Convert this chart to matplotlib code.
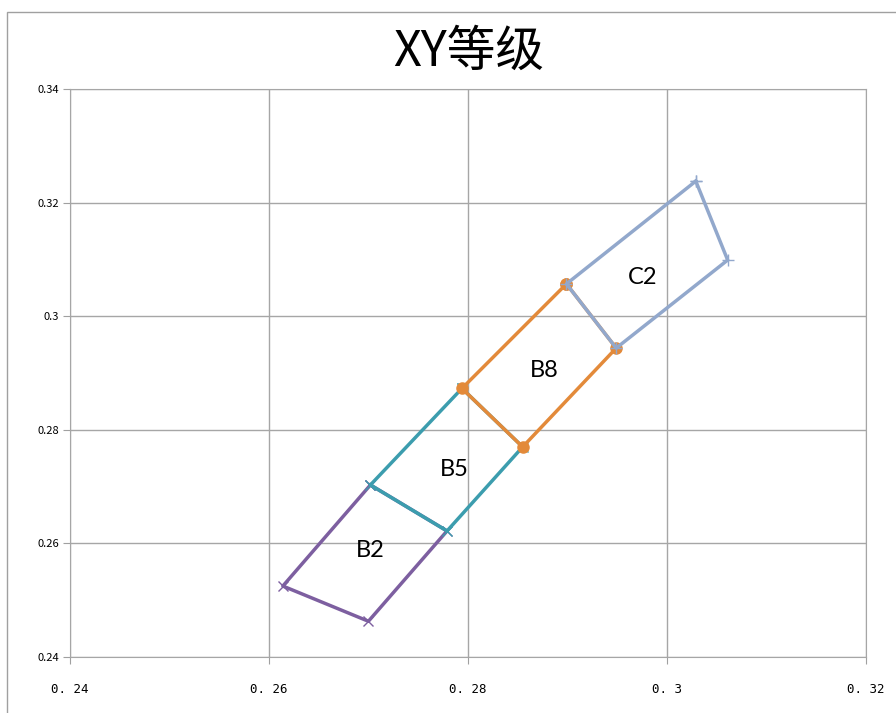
import matplotlib.pyplot as plt
from matplotlib.patches import Rectangle

plt.rcParams['font.family'] = ['Noto Sans CJK SC', 'DejaVu Sans']

# --- Bin corner data (closed quadrangles) ---
b2_x = [0.2702, 0.2614, 0.2700, 0.2779, 0.2702]
b2_y = [0.2703, 0.2525, 0.2463, 0.2622, 0.2703]

b5_x = [0.2794, 0.2702, 0.2779, 0.2855, 0.2794]
b5_y = [0.2873, 0.2703, 0.2622, 0.2770, 0.2873]

b8_x = [0.2899, 0.2794, 0.2855, 0.2949, 0.2899]
b8_y = [0.3057, 0.2873, 0.2770, 0.2944, 0.3057]

c2_x = [0.3029, 0.2899, 0.2949, 0.3061, 0.3029]
c2_y = [0.3238, 0.3057, 0.2944, 0.3099, 0.3238]

bin_names = ["B2", "B5", "B8", "C2"]
label_x = [0.2702, 0.2786, 0.2877, 0.2976]
label_y = [0.2587, 0.2731, 0.2904, 0.3068]

x_ticks = [0.24, 0.26, 0.28, 0.30, 0.32]
x_tick_labels = ["0. 24", "0. 26", "0. 28", "0. 3", "0. 32"]
y_ticks = [0.24, 0.26, 0.28, 0.30, 0.32, 0.34]
y_tick_labels = ["0.24", "0.26", "0.28", "0.3", "0.32", "0.34"]

fig = plt.figure(figsize=(8.96, 7.13), dpi=100)
fig.patches.append(Rectangle((0.008, -0.01), 1.1, 0.993, transform=fig.transFigure,
                             fill=False, edgecolor="#a0a0a0", linewidth=1))
ax = fig.add_axes([0.078, 0.0785, 0.8885, 0.7965])

ax.plot(b2_x, b2_y, color="#7d5fa0", linewidth=2.5, marker="x", markersize=7,
        markeredgewidth=1)
ax.plot(b5_x, b5_y, color="#3c9dae", linewidth=2.5, marker="x", markersize=7,
        markeredgewidth=1)
ax.plot(b8_x, b8_y, color="#e38a3a", linewidth=2.5, marker="o", markersize=8)
ax.plot(c2_x, c2_y, color="#92a8cc", linewidth=2.5, marker="+", markersize=9,
        markeredgewidth=1)

for name, lx, ly in zip(bin_names, label_x, label_y):
    ax.text(lx, ly, name, fontsize=17, ha="center", va="center",
            family=["Lato", "DejaVu Sans"])

ax.set_xlim(0.24, 0.32)
ax.set_ylim(0.24, 0.34)
ax.set_xticks(x_ticks)
ax.set_xticklabels(x_tick_labels, fontsize=9, family=["DejaVu Sans Mono"])
ax.set_yticks(y_ticks)
ax.set_yticklabels(y_tick_labels, fontsize=8)
ax.tick_params(axis="x", length=5, pad=14, color="#a0a0a0")
ax.tick_params(axis="y", length=5, pad=3, color="#a0a0a0")
ax.grid(True, color="#a6a6a6", linewidth=1)
ax.set_axisbelow(True)
for s in ax.spines.values():
    s.set_color("#a6a6a6")

fig.text(0.523, 0.927, "XY等级", fontsize=35, ha="center", va="center")

plt.savefig("out.png")
